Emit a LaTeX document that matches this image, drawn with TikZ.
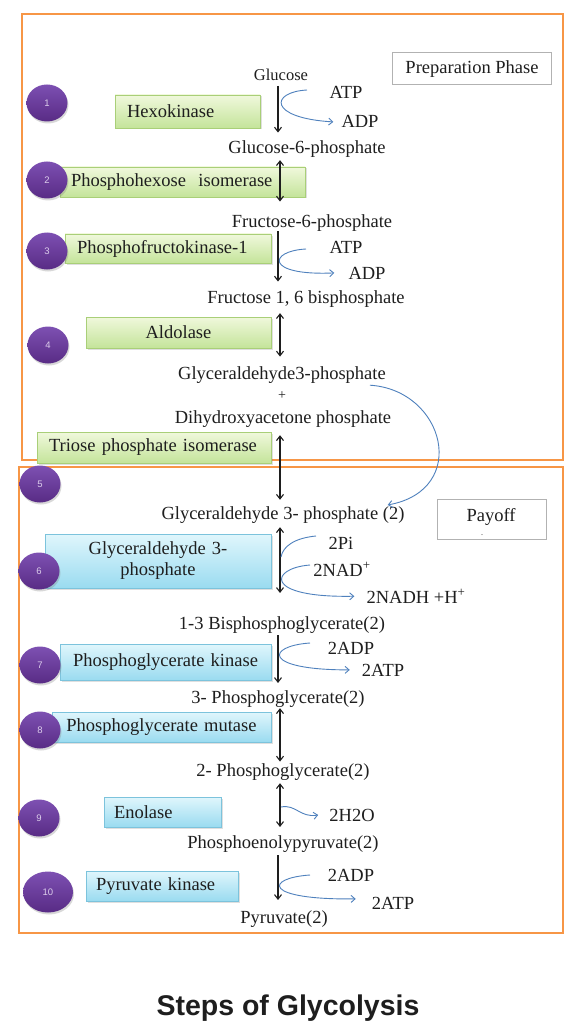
\documentclass[tikz,border=0pt]{standalone}
\usepackage{fontspec}
\setmainfont{Liberation Serif}
\newfontfamily\sansf{Liberation Sans}
\usetikzlibrary{arrows.meta,shadows,shapes.geometric}
\definecolor{orng}{HTML}{F79646}
\definecolor{txt}{HTML}{1E1E1E}
\definecolor{gtop}{HTML}{F0F8DC}
\definecolor{gbot}{HTML}{C4E49A}
\definecolor{gbrd}{HTML}{A9CF78}
\definecolor{btop}{HTML}{E0F6FC}
\definecolor{bbot}{HTML}{9ADBF0}
\definecolor{bbrd}{HTML}{7CC3DC}
\definecolor{ptop}{HTML}{7D50B2}
\definecolor{pbot}{HTML}{582B85}
\definecolor{numtxt}{HTML}{DCCDEB}
\definecolor{arr}{HTML}{4F81BD}
\begin{document}
\begin{tikzpicture}[x=1pt,y=-1pt,
 chem/.style={font=\fontsize{18.5}{21}\selectfont, text=txt, inner sep=0pt, anchor=base},
 flow/.style={-{Straight Barb[length=4.5pt,width=7pt]}, line width=1.1pt, draw=txt},
 rev/.style={{Straight Barb[length=4.5pt,width=7pt]}-{Straight Barb[length=4.5pt,width=7pt]}, line width=1.1pt, draw=txt},
 side/.style={-{Straight Barb[length=4pt,width=7pt]}, line width=0.9pt, draw=arr},
 sidel/.style={line width=0.9pt, draw=arr},
 gbox/.style={draw=gbrd, line width=0.8pt, top color=gtop, bottom color=gbot, inner sep=0pt,
   font=\fontsize{18.5}{21}\selectfont, text=txt,
   drop shadow={shadow xshift=1.5pt, shadow yshift=-1.5pt, opacity=0.25}},
 bbox/.style={gbox, draw=bbrd, top color=btop, bottom color=bbot},
 num/.style={ellipse, minimum width=41pt, minimum height=37pt, inner sep=0pt, top color=ptop, bottom color=pbot, draw=none,
   font=\sansf\fontsize{9.5}{9.5}\selectfont, text=numtxt,
   drop shadow={shadow xshift=1pt, shadow yshift=-2pt, opacity=0.3}},
 phase/.style={draw=gray!60, line width=1pt, fill=white, inner sep=0pt,
   font=\fontsize{18.5}{21}\selectfont, text=txt},
]
\fill[white] (0,0) rectangle (586,1024);
\useasboundingbox (0,0) rectangle (586,1024);

% phase frames
\draw[orng, line width=2pt] (22,14) rectangle (563,460);
\draw[orng, line width=2pt] (19,467) rectangle (563,933);

% phase labels
\node[phase, minimum width=159pt, minimum height=32pt] (prep) at (472,69) {Preparation Phase};
\node[phase, minimum width=109pt, minimum height=40pt, fill=none] (pay) at (491.5,519) {};
\node[chem] (payt) at (491,521) {Payoff};
\node[chem, font=\fontsize{8}{8}\selectfont] (payd) at (482,535) {.};

% enzyme boxes
\node[gbox, minimum width=145pt, minimum height=33pt, text width=121pt, align=left] (hex) at (187.5,111.5) {Hexokinase};
\node[gbox, minimum width=245pt, minimum height=30pt, text width=223pt, align=left] (phi) at (182.5,182) {Phosphohexose~ isomerase};
\node[gbox, minimum width=206pt, minimum height=29pt, text width=182pt, align=left] (pfk) at (168,248.5) {Phosphofructokinase-1};
\node[gbox, minimum width=185pt, minimum height=31pt, text width=185pt, align=center] (ald) at (178.5,332.5) {Aldolase};
\node[gbox, minimum width=234pt, minimum height=31pt, text width=210pt, align=left] (tpi) at (154,447.5) {Triose phosphate isomerase};
\node[bbox, minimum width=226pt, minimum height=54pt, text width=226pt, align=center] (gapdh) at (158,561) {Glyceraldehyde 3-\\phosphate};
\node[bbox, minimum width=211pt, minimum height=36pt, text width=211pt, align=center] (pgk) at (165.5,662) {Phosphoglycerate kinase};
\node[bbox, minimum width=219pt, minimum height=30pt, text width=219pt, align=center] (pgm) at (161.5,727) {Phosphoglycerate mutase};
\node[bbox, minimum width=117pt, minimum height=30pt, text width=97pt, align=left] (eno) at (162.5,812) {Enolase};
\node[bbox, minimum width=152pt, minimum height=30pt, text width=132pt, align=left] (pk) at (162,886) {Pyruvate kinase};

% metabolites
\node[chem, font=\fontsize{16.5}{18}\selectfont] (glc) at (281,80.5) {Glucose};
\node[chem] (atp1) at (346,99) {ATP};
\node[chem] (adp1) at (360,128) {ADP};
\node[chem] (g6p) at (307,154) {Glucose-6-phosphate};
\node[chem] (f6p) at (312,227) {Fructose-6-phosphate};
\node[chem] (atp2) at (346,253) {ATP};
\node[chem] (adp2) at (367,279) {ADP};
\node[chem] (f16bp) at (306,303) {Fructose 1, 6 bisphosphate};
\node[chem] (g3p) at (282,379) {Glyceraldehyde3-phosphate};
\node[chem, font=\fontsize{14}{14}\selectfont] (plus) at (282,399) {+};
\node[chem] (dhap) at (283,423) {Dihydroxyacetone phosphate};
\node[chem] (g3p2) at (283,519) {Glyceraldehyde 3- phosphate (2)};
\node[chem] (pi) at (341,549) {2Pi};
\node[chem] (nad) at (342,576) {2NAD\textsuperscript{+}};
\node[chem] (nadh) at (416,603) {2NADH +H\textsuperscript{+}};
\node[chem] (bpg) at (282,629) {1-3 Bisphosphoglycerate(2)};
\node[chem] (adp7) at (351,654) {2ADP};
\node[chem] (atp7) at (383,676) {2ATP};
\node[chem] (pg3) at (278,703) {3- Phosphoglycerate(2)};
\node[chem] (pg2) at (283,776) {2- Phosphoglycerate(2)};
\node[chem] (h2o) at (352,821) {2H2O};
\node[chem] (pep) at (283,848) {Phosphoenolypyruvate(2)};
\node[chem] (adp10) at (351,881) {2ADP};
\node[chem] (atp10) at (393,909) {2ATP};
\node[chem] (pyr) at (284,923) {Pyruvate(2)};

% main arrows
\coordinate (axs) at (278,0);
\coordinate (axd) at (280,0);
\draw[flow, shorten <=5pt, shorten >=8.4pt] (glc.south -| axs) -- (g6p.north -| axs);
\draw[rev, shorten <=2pt, shorten >=12.4pt] (g6p.south -| axd) -- (f6p.north -| axd);
\draw[flow, shorten >=8.4pt] (f6p.south -| axs) -- (f16bp.north -| axs);
\draw[rev, shorten <=6pt, shorten >=9.4pt] (f16bp.south -| axd) -- (g3p.north -| axd);
\draw[rev, shorten <=8pt, shorten >=6.2pt] (dhap.south -| axd) -- (g3p2.north -| axd);
\draw[rev, shorten <=4pt, shorten >=23pt] (g3p2.south -| axd) -- (bpg.north -| axd);
\draw[flow, shorten <=2pt, shorten >=7pt] (bpg.south -| axs) -- (pg3.north -| axs);
\draw[rev, shorten <=1pt, shorten >=1.4pt] (pg3.south -| axd) -- (pg2.north -| axd);
\draw[rev, shorten <=3pt, shorten >=8pt] (pg2.south -| axd) -- (pep.north -| axd);
\draw[flow, shorten <=3pt, shorten >=10pt] (pep.south -| axs) -- (pyr.north -| axs);

% side reactions
\coordinate (s1) at (307,90);
\draw[side] (s1) .. controls (270,92) and (268,118) .. ([xshift=-8pt]adp1.west);
\coordinate (s3) at (306,249);
\draw[side] (s3) .. controls (268,251) and (265,276) .. ([xshift=-14pt]adp2.west);
\coordinate (s6a) at (316,536);
\coordinate (e6a) at (281,557);
\draw[sidel] (s6a) .. controls (295,538) and (283,546) .. (e6a);
\coordinate (s6b) at (310,565);
\draw[side] (s6b) .. controls (270,568) and (262,598) .. ([xshift=-12pt]nadh.west);
\coordinate (s7) at (310,643);
\draw[side] (s7) .. controls (266,646) and (262,670) .. ([xshift=-12pt]atp7.west);
\coordinate (s9) at (281,807);
\draw[side] (s9) .. controls (296,804) and (300,818) .. ([xshift=-11pt]h2o.west);
\coordinate (s10) at (310,875);
\draw[side] (s10) .. controls (265,878) and (262,900) .. ([xshift=-16pt,yshift=4pt]atp10.west);
\draw[side] ([xshift=-16pt,yshift=-2pt]g3p.south east) .. controls (445,390) and (470,490) .. ([xshift=-17pt,yshift=1pt]g3p2.north east);

% step numbers
\node[num] (n1) at (47,103) {1};
\node[num] (n2) at (47,180) {2};
\node[num] (n3) at (47,251) {3};
\node[num] (n4) at (48,345) {4};
\node[num] (n5) at (40,484) {5};
\node[num] (n6) at (39,571) {6};
\node[num] (n7) at (40,665) {7};
\node[num] (n8) at (40,730) {8};
\node[num] (n9) at (39,818) {9};
\node[num, minimum width=50pt, minimum height=41pt] (n10) at (48,892) {10};

% title
\node[font=\sansf\bfseries\fontsize{28.5}{30}\selectfont, text=txt, inner sep=0pt, anchor=base] (title) at (288,1015) {Steps of Glycolysis};
\end{tikzpicture}
\end{document}
